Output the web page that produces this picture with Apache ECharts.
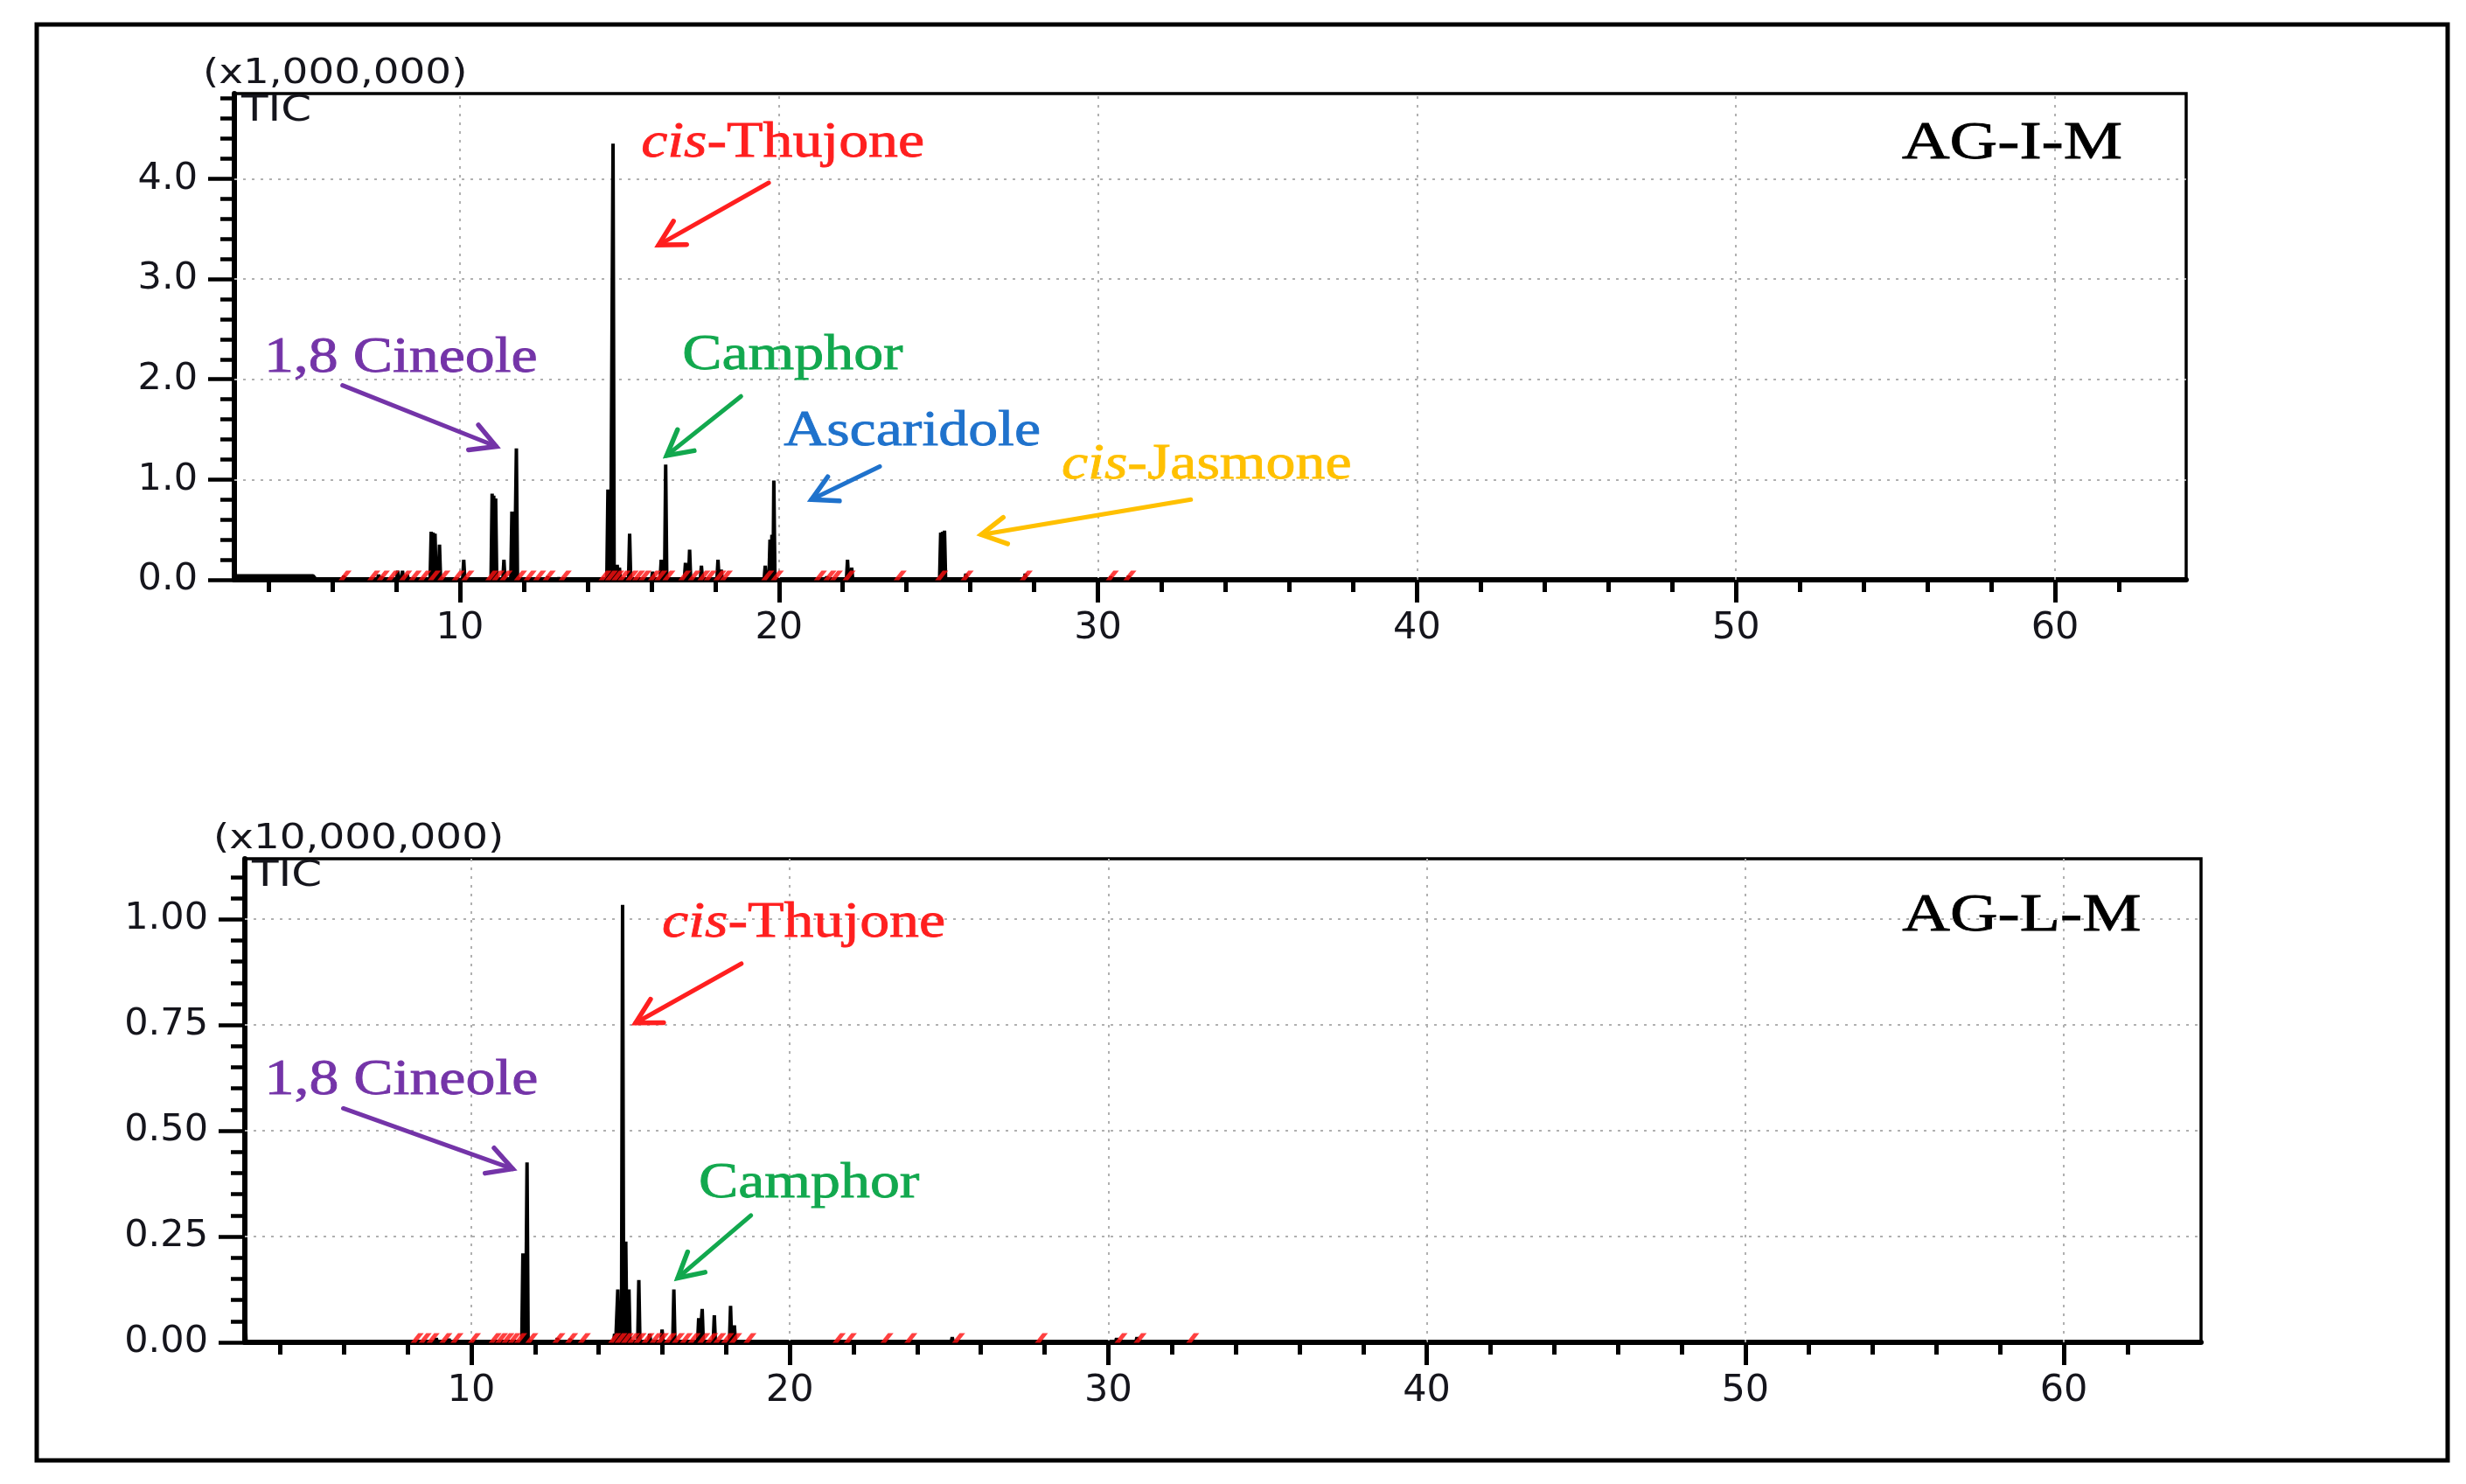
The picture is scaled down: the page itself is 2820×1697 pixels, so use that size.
<!DOCTYPE html>
<html>
<head>
<meta charset="utf-8">
<title>TIC chromatograms AG-I-M / AG-L-M</title>
<style>
html, body { margin: 0; padding: 0; background: #fff; }
#main { width: 2820px; height: 1697px; }
</style>
<script src="https://cdn.jsdelivr.net/npm/echarts@6/dist/echarts.min.js"></script>
</head>
<body>
<div id="main"></div>
<script>
// ---- data (retention time in min, intensity in axis units) ----
var topStart = [[2.93, 0.66], [2.96, 0.04], [5.4, 0.04], [5.5, 0]];
var topPeakRt     = [6.36, 7.45, 7.55, 8.05, 8.2, 8.35, 9.1, 9.16, 9.22, 9.36, 10.12, 11.01, 11.06, 11.12, 11.38, 11.63, 11.68, 11.77, 12.75, 13.1, 14.64, 14.69, 14.8, 14.93, 15.0, 15.32, 16.04, 16.31, 16.45, 17.07, 17.2, 17.57, 18.09, 18.19, 19.57, 19.72, 19.78, 19.84, 21.5, 22.15, 22.28, 25.07, 25.13, 25.19, 25.86, 27.72, 30.4, 30.96];
var topPeakHeight = [0.04, 0.05, 0.03, 0.09, 0.09, 0.05, 0.48, 0.47, 0.46, 0.35, 0.2, 0.86, 0.84, 0.81, 0.2, 0.68, 0.68, 1.31, 0.03, 0.02, 0.9, 0.9, 4.35, 0.15, 0.12, 0.46, 0.08, 0.2, 1.15, 0.17, 0.3, 0.14, 0.2, 0.1, 0.14, 0.4, 0.45, 0.99, 0.03, 0.2, 0.12, 0.47, 0.48, 0.49, 0.06, 0.06, 0.03, 0.04];
var topMarkRt = [6.4, 7.3, 7.6, 7.9, 8.3, 8.6, 8.9, 9.2, 9.5, 9.95, 10.25, 11.0, 11.2, 11.45, 11.9, 12.2, 12.5, 12.8, 13.3, 14.55, 14.75, 14.95, 15.15, 15.4, 15.6, 15.8, 16.1, 16.3, 16.55, 17.05, 17.35, 17.65, 17.85, 18.15, 18.35, 19.65, 19.95, 21.3, 21.6, 21.8, 22.2, 23.8, 25.1, 25.9, 27.75, 30.45, 31.0];

var lowStart = [[2.89, 0.077], [2.93, 0]];
var lowPeakRt     = [8.9, 9.3, 11.62, 11.67, 11.75, 12.7, 13.1, 14.5, 14.6, 14.75, 14.79, 14.85, 14.95, 15.26, 15.6, 15.99, 16.36, 17.14, 17.25, 17.63, 18.14, 18.26, 25.1, 30.26, 30.9];
var lowPeakHeight = [0.01, 0.008, 0.21, 0.21, 0.425, 0.01, 0.008, 0.02, 0.125, 1.034, 0.238, 0.238, 0.125, 0.147, 0.02, 0.03, 0.125, 0.057, 0.079, 0.064, 0.086, 0.04, 0.012, 0.01, 0.012];
var lowMarkRt = [8.3, 8.55, 8.8, 9.2, 9.55, 10.1, 10.75, 10.95, 11.15, 11.35, 11.55, 11.9, 12.75, 13.15, 13.55, 14.5, 14.7, 14.9, 15.1, 15.3, 15.55, 15.8, 16.0, 16.25, 16.5, 16.75, 17.0, 17.3, 17.55, 17.8, 18.05, 18.3, 18.75, 21.55, 21.9, 23.05, 23.8, 25.3, 27.9, 30.4, 31.0, 32.65];

// ---- tick values ----
var xMajor = [10, 20, 30, 40, 50, 60];
var xMinor = [4, 6, 8, 12, 14, 16, 18, 22, 24, 26, 28, 32, 34, 36, 38, 42, 44, 46, 48, 52, 54, 56, 58, 62];
var topYMajor = [0, 1, 2, 3, 4];
var topYMinor = [0.2, 0.4, 0.6, 0.8, 1.2, 1.4, 1.6, 1.8, 2.2, 2.4, 2.6, 2.8, 3.2, 3.4, 3.6, 3.8, 4.2, 4.4, 4.6, 4.8];
var lowYMajor = [0, 0.25, 0.5, 0.75, 1.0];
var lowYMinor = [0.05, 0.1, 0.15, 0.2, 0.3, 0.35, 0.4, 0.45, 0.55, 0.6, 0.65, 0.7, 0.8, 0.85, 0.9, 0.95, 1.05, 1.1];

// ---- annotations (anchored in data coordinates) ----
var notes = [
    {s: 0, text: '{i|cis}-Thujone', at: [15.68, 4.35], color: '#ff1f1f', from: [19.68, 3.96], to: [16.23, 3.34]},
    {s: 0, text: '1,8 Cineole',     at: [3.86, 2.21],  color: '#7434a8', from: [6.32, 1.94],  to: [11.14, 1.33]},
    {s: 0, text: 'Camphor',         at: [16.97, 2.23], color: '#12a84e', from: [18.81, 1.83], to: [16.48, 1.24]},
    {s: 0, text: 'Ascaridole',      at: [20.15, 1.47], color: '#1f72cc', from: [23.16, 1.13], to: [21.02, 0.80]},
    {s: 0, text: '{i|cis}-Jasmone', at: [28.86, 1.14], color: '#ffc000', from: [32.91, 0.80], to: [26.34, 0.45]},
    {s: 0, text: 'AG-I-M',          at: [55.2, 4.35],  color: '#000000', big: true},
    {s: 3, text: '{i|cis}-Thujone', at: [15.99, 0.99], color: '#ff1f1f', from: [18.48, 0.895], to: [15.16, 0.755]},
    {s: 3, text: '1,8 Cineole',     at: [3.51, 0.617], color: '#7434a8', from: [5.98, 0.553], to: [11.3, 0.41]},
    {s: 3, text: 'Camphor',         at: [17.14, 0.374], color: '#12a84e', from: [18.78, 0.30], to: [16.48, 0.152]},
    {s: 3, text: 'AG-L-M',          at: [54.93, 1.008], color: '#000000', big: true}
];

function buildTrace(start, rt, h) {
    var d = start.slice();
    for (var i = 0; i < rt.length; i++) {
        d.push([rt[i] - 0.035, 0], [rt[i], h[i]], [rt[i] + 0.035, 0]);
    }
    d.push([40, 0]);
    return d;
}

var labelFont = {fontFamily: 'DejaVu Sans', fontSize: 43, color: '#15151c'};

function xAxes(g, min, max) {
    return [{
        type: 'value', gridIndex: g, min: min, max: max, position: 'bottom',
        axisLine: {show: true, onZero: false, lineStyle: {color: '#000', width: 6}},
        axisTick: {show: true, customValues: xMajor, length: 26, lineStyle: {color: '#000', width: 5}},
        axisLabel: Object.assign({customValues: xMajor, margin: 34}, labelFont),
        splitLine: {show: false}
    }, {
        type: 'value', gridIndex: g, min: min, max: max, position: 'bottom',
        axisLine: {show: false},
        axisTick: {show: true, customValues: xMinor, length: 14, lineStyle: {color: '#000', width: 5}},
        axisLabel: {show: false},
        splitLine: {show: false}
    }];
}

function yAxes(g, max, major, minor, digits) {
    return [{
        type: 'value', gridIndex: g, min: 0, max: max, position: 'left',
        axisLine: {show: true, onZero: false, lineStyle: {color: '#000', width: 6}},
        axisTick: {show: true, customValues: major, length: 30, lineStyle: {color: '#000', width: 4.5}},
        axisLabel: Object.assign({customValues: major, margin: 42, formatter: function (v) { return v.toFixed(digits); }}, labelFont),
        splitLine: {show: false}
    }, {
        type: 'value', gridIndex: g, min: 0, max: max, position: 'left',
        axisLine: {show: false},
        axisTick: {show: true, customValues: minor, length: 16, lineStyle: {color: '#000', width: 4.5}},
        axisLabel: {show: false},
        splitLine: {show: false}
    }];
}

function gridLines(yMajor) {
    return {
        silent: true, symbol: ['none', 'none'], z: 1, animation: false,
        label: {show: false},
        lineStyle: {color: '#b0b0b0', type: [3, 7], width: 2},
        data: xMajor.map(function (v) { return {xAxis: v}; })
            .concat(yMajor.slice(1).map(function (v) { return {yAxis: v}; }))
    };
}

var markSymbol = 'path://M0,9 L7,0 L12,0 L5,9 Z';

var option = {
    backgroundColor: '#fff',
    animation: false,
    grid: [
        {left: 268, top: 107, width: 2232, height: 556, show: true, borderColor: '#000', borderWidth: 3.5},
        {left: 280, top: 982, width: 2237, height: 553, show: true, borderColor: '#000', borderWidth: 3.5}
    ],
    xAxis: xAxes(0, 2.93, 64.11).concat(xAxes(1, 2.89, 64.31)),
    yAxis: yAxes(0, 4.85, topYMajor, topYMinor, 1).concat(yAxes(1, 1.143, lowYMajor, lowYMinor, 2)),
    series: [
        {
            name: 'AG-I-M', type: 'line', xAxisIndex: 0, yAxisIndex: 0, z: 3,
            showSymbol: false, symbol: 'none', clip: true,
            lineStyle: {color: '#000', width: 4},
            data: buildTrace(topStart, topPeakRt, topPeakHeight),
            markLine: gridLines(topYMajor)
        },
        {
            name: 'AG-I-M marks', type: 'scatter', xAxisIndex: 0, yAxisIndex: 0, z: 4,
            symbol: markSymbol, symbolSize: [15, 11], symbolOffset: [0, -5],
            itemStyle: {color: '#ff1010'},
            data: topMarkRt.map(function (v) { return [v, 0]; })
        },
        {
            name: 'blank', type: 'line', xAxisIndex: 2, yAxisIndex: 2, data: []
        },
        {
            name: 'AG-L-M', type: 'line', xAxisIndex: 2, yAxisIndex: 2, z: 3,
            showSymbol: false, symbol: 'none', clip: true,
            lineStyle: {color: '#000', width: 4},
            data: buildTrace(lowStart, lowPeakRt, lowPeakHeight),
            markLine: gridLines(lowYMajor)
        },
        {
            name: 'AG-L-M marks', type: 'scatter', xAxisIndex: 2, yAxisIndex: 2, z: 4,
            symbol: markSymbol, symbolSize: [15, 11], symbolOffset: [0, -5],
            itemStyle: {color: '#ff1010'},
            data: lowMarkRt.map(function (v) { return [v, 0]; })
        }
    ]
};

var chart = echarts.init(document.getElementById('main'));
chart.setOption(option);

// ---- annotation layer ----
function arrow(p0, p1, color) {
    var ang = Math.atan2(p1[1] - p0[1], p1[0] - p0[0]);
    var L = 32, a = 0.5;
    var h1 = [p1[0] - L * Math.cos(ang - a), p1[1] - L * Math.sin(ang - a)];
    var h2 = [p1[0] - L * Math.cos(ang + a), p1[1] - L * Math.sin(ang + a)];
    return [
        {type: 'line', z: 10, shape: {x1: p0[0], y1: p0[1], x2: p1[0], y2: p1[1]}, style: {stroke: color, lineWidth: 5, lineCap: 'round'}},
        {type: 'polyline', z: 10, shape: {points: [h1, p1, h2]}, style: {stroke: color, lineWidth: 5.5, fill: null, lineJoin: 'miter', lineCap: 'round'}}
    ];
}

var graphics = [];
notes.forEach(function (n) {
    var p = chart.convertToPixel({seriesIndex: n.s}, n.at);
    var size = n.big ? 62 : 57;
    graphics.push({
        type: 'text', z: 10, x: p[0], y: p[1], scaleX: n.big ? 1.22 : 1.19,
        style: {
            text: n.text, fill: n.color, fontFamily: 'Liberation Serif', fontSize: size,
            align: 'left', verticalAlign: 'middle',
            stroke: n.color, lineWidth: 0.8,
            rich: {i: {fontStyle: 'italic', fontFamily: 'Liberation Serif', fontSize: size, fill: n.color}}
        }
    });
    if (n.from) {
        graphics = graphics.concat(arrow(chart.convertToPixel({seriesIndex: n.s}, n.from),
                                         chart.convertToPixel({seriesIndex: n.s}, n.to), n.color));
    }
});

// unit and TIC captions, placed from each grid's top-left corner
[[0, [2.93, 4.85], '(x1,000,000)'], [3, [2.89, 1.143], '(x10,000,000)']].forEach(function (c) {
    var p = chart.convertToPixel({seriesIndex: c[0]}, c[1]);
    graphics.push({
        type: 'text', z: 10, x: p[0] - 36, y: p[1] - 22, scaleX: 1.2,
        style: {text: c[2], fill: '#15151c', fontFamily: 'DejaVu Sans', fontSize: 39, align: 'left', verticalAlign: 'middle'}
    });
    graphics.push({
        type: 'text', z: 10, x: p[0] + 8, y: p[1] + 21, scaleX: 1.25,
        style: {text: 'TIC', fill: '#15151c', fontFamily: 'DejaVu Sans', fontSize: 40, align: 'left', verticalAlign: 'middle'}
    });
});

// outer frame
graphics.push({
    type: 'rect', z: 10, shape: {x: 42, y: 28, width: 2757, height: 1642},
    style: {fill: null, stroke: '#000', lineWidth: 5}
});

chart.setOption({graphic: graphics});

window.onresize = chart.resize;
</script>
</body>
</html>
